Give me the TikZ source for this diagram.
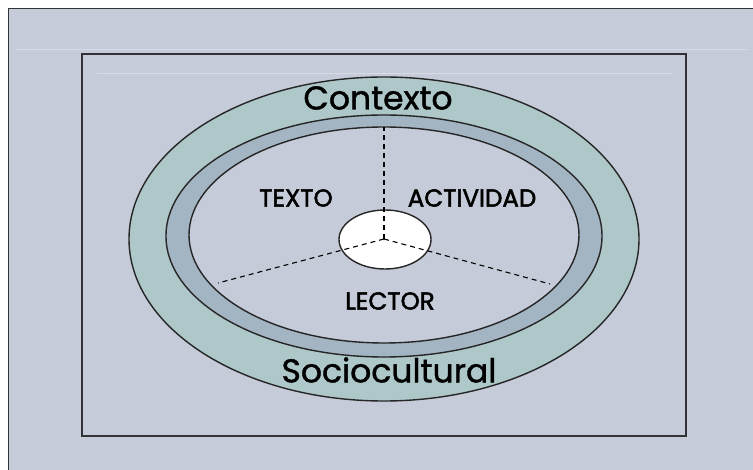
\documentclass[tikz,border=0pt]{standalone}
\usepackage{fontspec}
\setmainfont{Poppins}
\newfontfamily\medio[FakeBold=1.2]{Poppins}
\newfontfamily\grueso[FakeBold=2]{Poppins}
\usetikzlibrary{positioning}
\definecolor{fondo}{RGB}{197,203,216}
\definecolor{verde}{RGB}{174,199,201}
\definecolor{azul}{RGB}{163,181,195}
\definecolor{borde}{RGB}{50,50,55}
\definecolor{brillo}{RGB}{215,220,230}
\tikzset{
marco/.style={draw=borde, line width=1.6pt},
anillo/.style={draw=black!85, line width=1.4pt},
radio/.style={line width=1.1pt, dash pattern=on 5pt off 4pt},
grande/.style={font=\medio\fontsize{33}{34}\selectfont},
etiqueta/.style={font=\grueso\fontsize{24.5}{25}\selectfont}
}

\begin{document}
\begin{tikzpicture}[x=1pt,y=-1pt]
\useasboundingbox (0,0) rectangle (753,470);
\fill[white] (0,0) rectangle (753,470);
\fill[fondo] (8.5,8.5) rectangle (760,480);
\draw[marco] (8.5,480) -- (8.5,8.5) -- (760,8.5);
\draw[brillo, line width=0.8pt] (16,49) -- (747,49);
\draw[marco] (82,54) rectangle (686,436);
\draw[brillo, line width=0.8pt] (97,73) -- (673,73);

% anillos
\draw[anillo, fill=verde] (384,239) ellipse [x radius=255, y radius=162];
\draw[anillo, fill=azul] (384,236) ellipse [x radius=218, y radius=121];
\draw[anillo, fill=fondo] (384,235) ellipse [x radius=195, y radius=108];

\coordinate (centro) at (384,239);
\coordinate (arriba) at (384,127);
\coordinate (izq) at (218,283);
\coordinate (der) at (550,284);

\draw[anillo, fill=white] (385,239.5) ellipse [x radius=46, y radius=29.5];
\draw[radio] (centro) -- (arriba);
\draw[radio] (centro) -- (izq);
\draw[radio] (centro) -- (der);

\node[grande] (contexto) at (378,98) {Contexto};
\node[grande] (socio) at (389,370) {Sociocultural};
\node[etiqueta] (texto) at (296,198) {TEXTO};
\node[etiqueta] (actividad) at (472,198) {ACTIVIDAD};
\node[etiqueta] (lector) at (390,301) {LECTOR};
\end{tikzpicture}
\end{document}
